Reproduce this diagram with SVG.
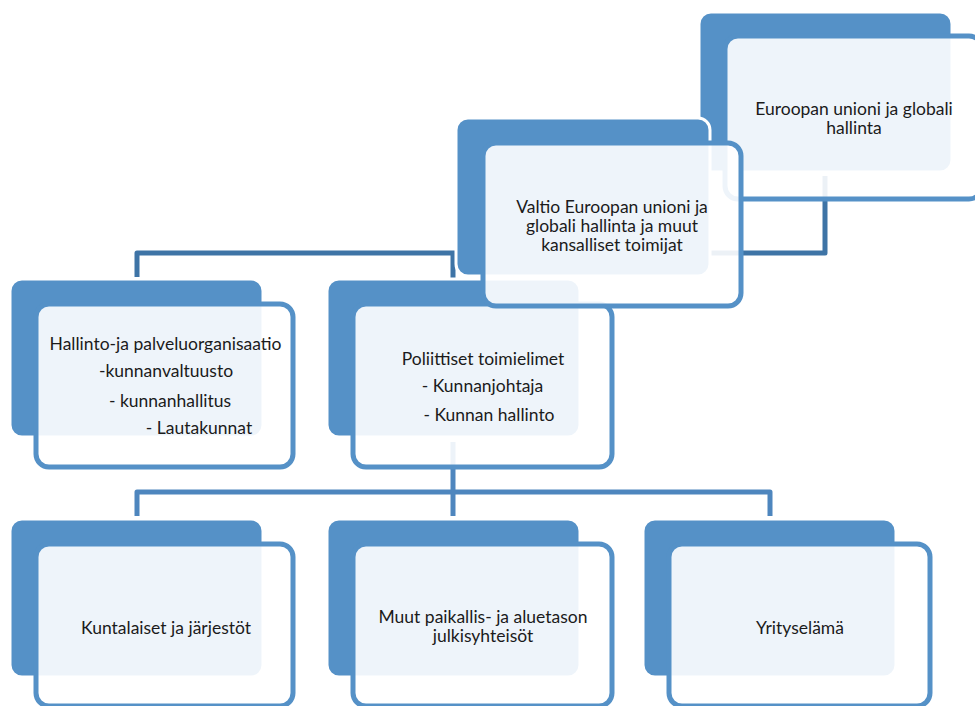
<svg xmlns="http://www.w3.org/2000/svg" width="975" height="706" viewBox="0 0 975 706">
<style>
.back{fill:#5591C7;stroke:#ffffff;stroke-width:3}
.frame{fill:#ffffff;fill-opacity:0.9;stroke:#5591C7;stroke-width:5}
.t{font-family:Lato,"Liberation Sans",sans-serif;font-size:17.5px;fill:#1b1b1b;text-anchor:middle}
.c1{fill:none;stroke:#3E74A6;stroke-width:5;stroke-linejoin:round}
.c2{fill:none;stroke:#4E86BE;stroke-width:5;stroke-linejoin:round}
</style>
<rect width="975" height="706" fill="#ffffff"/>
<g id="connectors">
<path class="c1" d="M137,277 V253 H825 V176"/>
<path class="c1" d="M453,253 V279"/>
<path class="c2" d="M453,442 V516"/>
<path class="c2" d="M137,516 V492 H770 V516"/>
</g>
<g id="node-eu">
<rect class="back" x="699" y="12" width="253" height="160" rx="12"/>
<rect class="frame" x="725" y="36" width="257" height="163" rx="13"/>
<text class="t" x="854" y="115">Euroopan unioni ja globali</text>
<text class="t" x="854" y="134">hallinta</text>
</g>
<g id="node-hallinto">
<rect class="back" x="10" y="279" width="253" height="158" rx="12"/>
<rect class="frame" x="36" y="304" width="257" height="163" rx="13"/>
<text class="t" x="165.5" y="350">Hallinto-ja palveluorganisaatio</text>
<text class="t" x="166" y="377">-kunnanvaltuusto</text>
<text class="t" x="170" y="407">- kunnanhallitus</text>
<text class="t" x="199" y="434">- Lautakunnat</text>
</g>
<g id="node-poliittiset">
<rect class="back" x="327" y="279" width="253" height="158" rx="12"/>
<rect class="frame" x="353" y="304" width="259" height="163" rx="13"/>
<text class="t" x="483" y="365">Poliittiset toimielimet</text>
<text class="t" x="482.5" y="392">- Kunnanjohtaja</text>
<text class="t" x="489" y="421">- Kunnan hallinto</text>
</g>
<g id="node-kuntalaiset">
<rect class="back" x="10" y="519" width="253" height="158" rx="12"/>
<rect class="frame" x="36" y="544" width="257" height="162" rx="13"/>
<text class="t" x="166" y="634">Kuntalaiset ja järjestöt</text>
</g>
<g id="node-muut">
<rect class="back" x="327" y="519" width="253" height="158" rx="12"/>
<rect class="frame" x="353" y="544" width="259" height="162" rx="13"/>
<text class="t" x="483" y="623">Muut paikallis- ja aluetason</text>
<text class="t" x="483" y="642">julkisyhteisöt</text>
</g>
<g id="node-yrityselama">
<rect class="back" x="643" y="519" width="253" height="158" rx="12"/>
<rect class="frame" x="669" y="544" width="261" height="162" rx="13"/>
<text class="t" x="800" y="634">Yrityselämä</text>
</g>
<g id="node-valtio">
<rect class="back" x="456" y="118" width="254" height="158" rx="12"/>
<rect class="frame" x="483" y="143" width="258" height="163" rx="13"/>
<text class="t" x="612" y="213">Valtio Euroopan unioni ja</text>
<text class="t" x="612" y="232">globali hallinta ja muut</text>
<text class="t" x="612" y="251">kansalliset toimijat</text>
</g>
</svg>
